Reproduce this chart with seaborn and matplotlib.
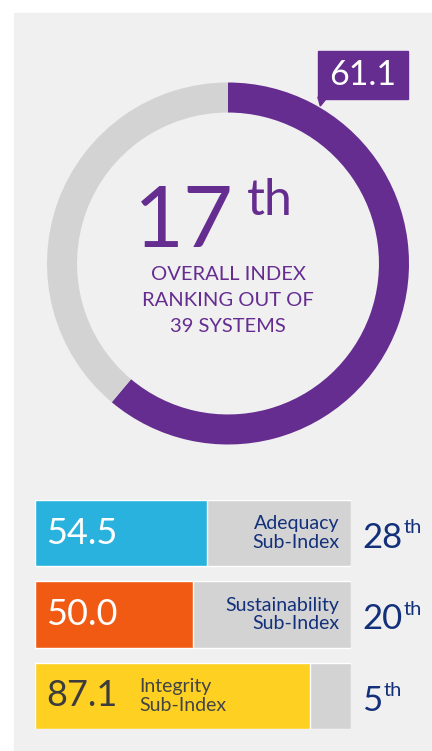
import matplotlib
matplotlib.use("Agg")
import matplotlib.pyplot as plt
import seaborn as sns
import pandas as pd
from matplotlib.patches import Rectangle, Polygon

# dati del grafico
overall_score = 61.1
overall_rank = "17"
n_systems = 39
subtitle_lines = ["OVERALL INDEX", "RANKING OUT OF", f"{n_systems} SYSTEMS"]

sub_names = ["Adequacy\nSub-Index", "Sustainability\nSub-Index", "Integrity\nSub-Index"]
sub_values = [54.5, 50.0, 87.1]
sub_ranks = ["28", "20", "5"]
sub_colors = ["#29b2dd", "#f15a12", "#fdd022"]

purple = "#662d91"
ring_gray = "#d3d3d3"
navy = "#13307a"
panel = "#f0f0f0"

sns.set_theme(style="white")
plt.rcParams["font.family"] = ["Lato", "DejaVu Sans"]

W, H = 432, 751
fig = plt.figure(figsize=(W / 100, H / 100), dpi=100)
fig.add_artist(Rectangle((14 / W, 1 / H), 1, 737 / H, transform=fig.transFigure,
                         color=panel, zorder=-10))


def px_axes(x0, y0, x1, y1):
    # crea un axes usando coordinate in pixel (origine in alto a sinistra)
    a = fig.add_axes([x0 / W, 1 - y1 / H, (x1 - x0) / W, (y1 - y0) / H])
    a.patch.set_alpha(0)
    return a


# ---- ciambella indice complessivo ----
ax = px_axes(47, 82.5, 409, 444.5)
ax.pie([overall_score, 100 - overall_score], colors=[purple, ring_gray], startangle=90,
       counterclock=False, radius=1, wedgeprops=dict(width=0.166, edgecolor="none"))
ax.set_xlim(-1, 1)
ax.set_ylim(-1, 1)
ax.axis("off")

# etichetta del punteggio
ax.add_patch(Rectangle((0.497, 0.909), 0.497, 0.265, color=purple, clip_on=False))
ax.add_patch(Polygon([(0.497, 0.92), (0.55, 0.92), (0.51, 0.87)], color=purple, clip_on=False))
ax.text(0.746, 1.041, f"{overall_score:.1f}", color="white", fontsize=24.5,
        ha="center", va="center", clip_on=False)

t17 = ax.text(0.03, 0.091, overall_rank, color=purple, fontsize=62,
              ha="right", va="baseline")
ax.annotate("th", xy=(1, 1), xycoords=t17, xytext=(10, 4), textcoords="offset points",
            color=purple, fontsize=36, ha="left", va="top")

for i, line in enumerate(subtitle_lines):
    ax.text(0, (263.5 - (274 + 26 * i)) / 181, line, color=purple, fontsize=14.5,
            ha="center", va="center")

# ---- barre dei sotto-indici ----
bx = px_axes(35, 500, 351, 729)
df = pd.DataFrame({"name": sub_names, "value": sub_values, "full": 100})
sns.barplot(data=df, x="full", y="name", color=ring_gray, width=0.81, saturation=1, ax=bx)
sns.barplot(data=df, x="value", y="name", hue="name", palette=sub_colors, width=0.81,
            saturation=1, legend=False, ax=bx)
bx.set_xlim(0, 100)
bx.set_ylim(2.405, -0.405)
bx.axis("off")

for i, (name, val, rank) in enumerate(zip(sub_names, sub_values, sub_ranks)):
    long_bar = val > 80
    bx.text(3.5, i, f"{val:.1f}", color="#3c3c3c" if long_bar else "white", fontsize=26,
            ha="left", va="center")
    if long_bar:
        bx.text(33, i, name, color="#444444", fontsize=14, ha="left", va="center", linespacing=1.1)
    else:
        bx.text(96.2, i, name, color=navy, fontsize=14, ha="right", va="center", linespacing=1.1)
    tr = bx.text(103.5, i + 0.184, rank, color=navy, fontsize=25, ha="left", va="baseline",
                 clip_on=False)
    bx.annotate("th", xy=(1, 1), xycoords=tr, xytext=(1, 2), textcoords="offset points",
                color=navy, fontsize=14.5, ha="left", va="top")

fig.savefig("out.png", dpi=100)
plt.close()
